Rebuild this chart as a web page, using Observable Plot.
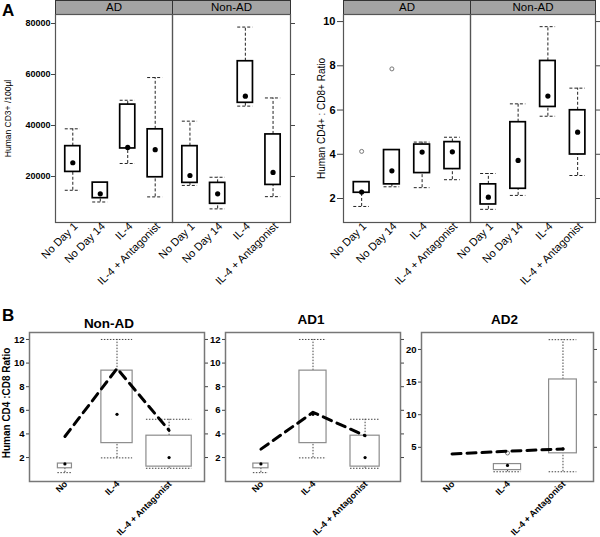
<!DOCTYPE html>
<html><head><meta charset="utf-8">
<script src="https://cdn.jsdelivr.net/npm/d3@7"></script>
<script src="https://cdn.jsdelivr.net/npm/@observablehq/plot@0.6"></script>
<style>
body{margin:0;background:#fff;}
#root{position:relative;width:600px;height:537px;overflow:hidden;background:#fff;font-family:"Liberation Sans",Arial,sans-serif;}
#root svg{position:absolute;left:0;top:0;}
.panel-letter{position:absolute;font-weight:bold;font-size:17px;line-height:1;}
</style></head><body><div id="root"></div>
<script>
// ---------- DATA: panel A ----------
const treatmentsA = ["No Day 1", "No Day 14", "IL-4", "IL-4 + Antagonist"];
const groupsA = ["AD", "Non-AD"];

const cd3ADLow   = [14600, 10000, 25100, 12000];
const cd3ADQ1    = [21800, 11500, 31000, 19700];
const cd3ADQ3    = [31900, 17600, 48200, 38500];
const cd3ADHigh  = [38700, 17600, 49900, 58800];
const cd3ADMean  = [25400, 13200, 31400, 30500];
const cd3NonADLow  = [16500, 7300, 47600, 12100];
const cd3NonADQ1   = [17500, 9300, 48900, 16700];
const cd3NonADQ3   = [31900, 17500, 65200, 36500];
const cd3NonADHigh = [41700, 19700, 78600, 50800];
const cd3NonADMean = [20400, 13200, 51500, 21600];
const cd3Ticks = [20000, 40000, 60000, 80000];

const ratioADLow   = [1.64, 2.53, 2.49, 2.85];
const ratioADQ1    = [2.26, 2.64, 3.15, 3.33];
const ratioADQ3    = [2.74, 4.19, 4.44, 4.55];
const ratioADHigh  = [2.74, 4.19, 4.55, 4.77];
const ratioADMean  = [2.29, 3.25, 4.10, 4.11];
const ratioADOutlierCats = ["No Day 1", "No Day 14"];
const ratioADOutlierVals = [4.13, 7.86];
const ratioNonADLow  = [1.51, 2.14, 5.72, 3.04];
const ratioNonADQ1   = [1.73, 2.44, 6.14, 3.99];
const ratioNonADQ3   = [2.64, 5.45, 8.22, 5.99];
const ratioNonADHigh = [3.13, 6.28, 9.77, 6.99];
const ratioNonADMean = [2.06, 3.72, 6.63, 5.00];
const ratioTicks = [2, 4, 6, 8, 10];

// ---------- DATA: panel B ----------
const treatmentsB = ["No", "IL-4", "IL-4 + Antagonist"];
const subjectsB = ["Non-AD", "AD1", "AD2"];
const bNonADLow  = [0.72, 1.97, 1.09];
const bNonADQ1   = [1.09, 3.22, 1.23];
const bNonADQ3   = [1.49, 9.36, 3.85];
const bNonADHigh = [1.49, 12.0, 5.24];
const bNonADMean = [1.46, 5.66, 2.00];
const bNonADSubject = [3.78, 9.54, 4.30];
const bAD1Low  = [0.72, 1.97, 1.09];
const bAD1Q1   = [1.09, 3.22, 1.23];
const bAD1Q3   = [1.49, 9.36, 3.85];
const bAD1High = [1.49, 12.0, 5.24];
const bAD1Mean = [1.46, 5.66, 2.00];
const bAD1Subject = [2.71, 5.83, 3.85];
const bAD2Low  = [null, 1.25, 1.25];
const bAD2Q1   = [null, 1.51, 4.08];
const bAD2Q3   = [null, 2.43, 15.4];
const bAD2High = [null, 2.43, 21.5];
const bAD2Mean = [null, 2.23, 4.75];
const bAD2Subject = [3.97, 4.39, 4.75];
const bAD2OutlierCats = ["IL-4"];
const bAD2OutlierVals = [4.13];
const bTicks12 = [2, 4, 6, 8, 10, 12];
const bTicks20 = [5, 10, 15, 20];

// ---------- LAYOUT / STYLE ----------
const FONT = "Liberation Sans, Arial, sans-serif";
const W = 600, H = 537;
const root = document.getElementById("root");
const boxWidthA = [0.55, 0.55, 0.55, 0.55];
const boxWidthRatio = [0.52, 0.52, 0.52, 0.52];
const boxWidthsB = {"Non-AD": [0.27, 0.60, 0.87], "AD1": [0.29, 0.52, 0.56], "AD2": [0, 0.49, 0.50]};

function addPanel(o) {
  const [x0, x1, y0, y1] = o.frame;
  const rows = o.cats.map((c, k) => ({k: k + 1, low: o.low[k], q1: o.q1[k], q3: o.q3[k], high: o.high[k], mean: o.mean[k], w: o.widths[k]}))
    .filter(d => d.q1 != null);
  const ws = {stroke: o.whiskerStroke, strokeWidth: 1, strokeDasharray: o.whiskerDash};
  const marks = [
    Plot.ruleX(rows, {x: "k", y1: "q3", y2: "high", ...ws}),
    Plot.ruleX(rows, {x: "k", y1: "low", y2: "q1", ...ws}),
    Plot.ruleY(rows, {y: "high", x1: d => d.k - d.w / 2, x2: d => d.k + d.w / 2, ...ws}),
    Plot.ruleY(rows, {y: "low", x1: d => d.k - d.w / 2, x2: d => d.k + d.w / 2, ...ws}),
    Plot.rect(rows, {x1: d => d.k - d.w / 2, x2: d => d.k + d.w / 2, y1: "q1", y2: "q3", fill: "white", stroke: o.boxStroke, strokeWidth: o.boxStrokeWidth}),
    Plot.dot(rows, {x: "k", y: "mean", r: o.dotR, fill: "black", stroke: "none"})
  ];
  if (o.outCats) {
    const outs = o.outCats.map((c, j) => ({k: o.cats.indexOf(c) + 1, v: o.outVals[j]}));
    marks.push(Plot.dot(outs, {x: "k", y: "v", r: 2, fill: "white", stroke: "#777", strokeWidth: 1}));
  }
  if (o.subject) {
    const pts = o.subject.map((v, k) => ({k: k + 1, v}));
    marks.push(Plot.line(pts, {x: "k", y: "v", stroke: "black", strokeWidth: 3, strokeDasharray: "9,6"}));
  }
  marks.push(Plot.frame({stroke: o.frameStroke, strokeWidth: o.frameWidth}));
  if (o.leftLabels) {
    marks.push(Plot.axisY({anchor: "left", ticks: o.yTicks, tickSize: o.tickSize, tickPadding: o.tickPad, fontSize: o.tickFont, fontWeight: "bold", label: null, tickFormat: d => String(d), stroke: "#444", fill: "black"}));
  }
  if (o.rightTicks) {
    marks.push(Plot.axisY({anchor: "right", ticks: o.yTicks, tickSize: o.tickSize, tickFormat: () => "", label: null, stroke: "#444"}));
  }
  marks.push(Plot.axisX({ticks: o.cats.map((c, k) => k + 1), tickFormat: k => o.cats[k - 1], tickRotate: -45, tickSize: 0, tickPadding: o.xPad, dx: o.xDx, dy: o.xDy, fontSize: o.xFont, fontWeight: o.xWeight, label: null, fill: "black"}));
  if (o.yTitle) {
    marks.push(Plot.text([o.yTitle], {frameAnchor: "left", textAnchor: "middle", rotate: -90, dx: o.yTitleDx, dy: o.yTitleDy || 0, fontSize: o.yTitleFont, fontWeight: o.yTitleWeight, fill: "black"}));
  }
  if (o.title) {
    marks.push(Plot.text([o.title], {frameAnchor: "top", lineAnchor: "bottom", dx: o.titleDx, dy: o.titleDy, fontSize: 13.5, fontWeight: "bold", fill: "black"}));
  }
  const svg = Plot.plot({
    width: W, height: H,
    marginLeft: x0, marginRight: W - x1, marginTop: y0, marginBottom: H - y1,
    x: {type: "linear", domain: o.xDomain},
    y: {type: "linear", domain: o.yDomain},
    style: {background: "transparent", overflow: "visible", fontFamily: FONT, color: "black"},
    marks
  });
  root.append(svg);
}

function addStrip(frame, label) {
  const [x0, x1, y0, y1] = frame;
  const svg = Plot.plot({
    width: W, height: H,
    marginLeft: x0, marginRight: W - x1, marginTop: y0, marginBottom: H - y1,
    style: {background: "transparent", overflow: "visible", fontFamily: FONT},
    marks: [
      Plot.frame({fill: "#a4a4a4", stroke: "#333", strokeWidth: 1}),
      Plot.text([label], {frameAnchor: "middle", fontSize: 11.5, fill: "black"})
    ]
  });
  root.append(svg);
}

const styleA = {widths: boxWidthA, whiskerStroke: "#222", whiskerDash: "3,2", boxStroke: "black", boxStrokeWidth: 1.7,
  frameStroke: "#555", frameWidth: 1.2, dotR: 2.6, tickSize: 4, xPad: 2, xDx: 3, xDy: 0, xFont: 11, xWeight: "normal"};
const styleB = {whiskerStroke: "#444", whiskerDash: "1.5,1.5", boxStroke: "#8c8c8c", boxStrokeWidth: 1.2,
  frameStroke: "#777", frameWidth: 1.5, dotR: 1.6, tickSize: 3, tickPad: 2, tickFont: 9.5, xPad: 1, xDx: 1, xDy: 0, xFont: 9, xWeight: "bold"};

// Panel A: CD3 counts
addStrip([55, 172, 0, 14], groupsA[0]);
addStrip([172, 290, 0, 14], groupsA[1]);
addPanel({...styleA, frame: [55, 172, 14, 222], cats: treatmentsA, low: cd3ADLow, q1: cd3ADQ1, q3: cd3ADQ3, high: cd3ADHigh, mean: cd3ADMean,
  xDomain: [0.37, 4.63], yDomain: [1960, 83530], yTicks: cd3Ticks, leftLabels: true, tickPad: 1, tickFont: 9,
  yTitle: "Human CD3+ /100µl", yTitleDx: -47, yTitleFont: 8.5, yTitleWeight: "normal"});
addPanel({...styleA, frame: [172, 290, 14, 222], cats: treatmentsA, low: cd3NonADLow, q1: cd3NonADQ1, q3: cd3NonADQ3, high: cd3NonADHigh, mean: cd3NonADMean,
  xDomain: [0.37, 4.63], yDomain: [1960, 83530], yTicks: cd3Ticks, rightTicks: true});

// Panel A: CD4:CD8 ratio
addStrip([343, 470, 0, 14], groupsA[0]);
addStrip([470, 595, 0, 14], groupsA[1]);
addPanel({...styleA, frame: [343, 470, 14, 222], cats: treatmentsA, low: ratioADLow, q1: ratioADQ1, q3: ratioADQ3, high: ratioADHigh, mean: ratioADMean,
  outCats: ratioADOutlierCats, outVals: ratioADOutlierVals, widths: boxWidthRatio, tickSize: 6, tickPad: 2, tickFont: 11,
  xDomain: [0.4, 4.6], yDomain: [0.915, 10.32], yTicks: ratioTicks, leftLabels: true,
  yTitle: "Human CD4+ : CD8+ Ratio", yTitleDx: -22, yTitleFont: 10, yTitleWeight: "normal"});
addPanel({...styleA, frame: [470, 595, 14, 222], cats: treatmentsA, low: ratioNonADLow, q1: ratioNonADQ1, q3: ratioNonADQ3, high: ratioNonADHigh, mean: ratioNonADMean,
  widths: boxWidthRatio,
  xDomain: [0.4, 4.6], yDomain: [0.915, 10.32], yTicks: ratioTicks, rightTicks: true});

// Panel B
addPanel({...styleB, frame: [29, 204, 332, 481], cats: treatmentsB, low: bNonADLow, q1: bNonADQ1, q3: bNonADQ3, high: bNonADHigh, mean: bNonADMean,
  subject: bNonADSubject, widths: boxWidthsB["Non-AD"], xDomain: [0.32, 3.68], yDomain: [-0.03, 12.59], yTicks: bTicks12,
  leftLabels: true, rightTicks: true, title: subjectsB[0], titleDx: -8, titleDy: -5,
  yTitle: "Human CD4 :CD8 Ratio", yTitleDx: -23, yTitleDy: -4, yTitleFont: 10, yTitleWeight: "bold"});
addPanel({...styleB, frame: [225, 400, 332, 481], cats: treatmentsB, low: bAD1Low, q1: bAD1Q1, q3: bAD1Q3, high: bAD1High, mean: bAD1Mean,
  subject: bAD1Subject, widths: boxWidthsB["AD1"], xDomain: [0.32, 3.68], yDomain: [-0.03, 12.59], yTicks: bTicks12,
  leftLabels: true, rightTicks: true, title: subjectsB[1], titleDx: -2, titleDy: -9});
addPanel({...styleB, frame: [421, 593, 332, 481], cats: treatmentsB, low: bAD2Low, q1: bAD2Q1, q3: bAD2Q3, high: bAD2High, mean: bAD2Mean,
  subject: bAD2Subject, outCats: bAD2OutlierCats, outVals: bAD2OutlierVals, widths: boxWidthsB["AD2"],
  xDomain: [0.45, 3.55], yDomain: [-0.24, 22.6], yTicks: bTicks20,
  leftLabels: true, rightTicks: true, title: subjectsB[2], titleDx: -3, titleDy: -9});

// Panel letters
for (const [t, x, y] of [["A", 2, 2], ["B", 2, 307]]) {
  const d = document.createElement("div");
  d.className = "panel-letter";
  d.style.left = x + "px"; d.style.top = y + "px";
  d.textContent = t;
  root.append(d);
}
</script></body></html>
